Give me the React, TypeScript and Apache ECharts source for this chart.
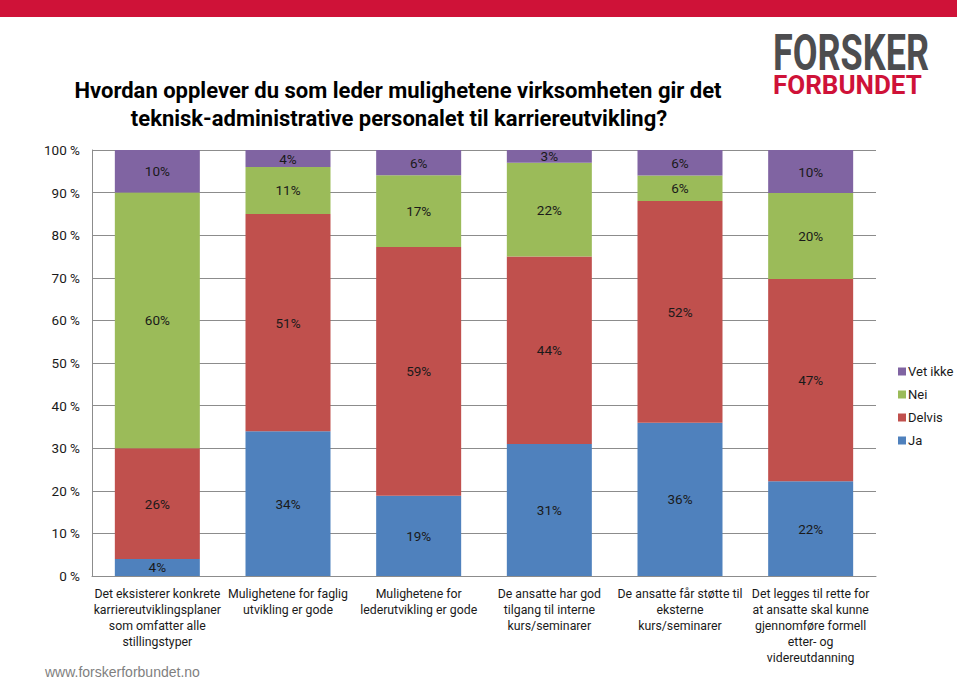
import React, { useEffect, useRef } from "react";
import * as echarts from "echarts";

const categories = [
  "Det eksisterer konkrete\nkarriereutviklingsplaner\nsom omfatter alle\nstillingstyper",
  "Mulighetene for faglig\nutvikling er gode",
  "Mulighetene for\nlederutvikling er gode",
  "De ansatte har god\ntilgang til interne\nkurs/seminarer",
  "De ansatte får støtte til\neksterne\nkurs/seminarer",
  "Det legges til rette for\nat ansatte skal kunne\ngjennomføre formell\netter- og\nvidereutdanning",
];

const ja = [4, 34, 19, 31, 36, 22];
const delvis = [26, 51, 59, 44, 52, 47];
const nei = [60, 11, 17, 22, 6, 20];
const vetIkke = [10, 4, 6, 3, 6, 10];

const seriesNames = ["Ja", "Delvis", "Nei", "Vet ikke"];
const seriesColors = ["#4F81BD", "#C0504D", "#9BBB59", "#8064A2"];
const legendOrder = ["Vet ikke", "Nei", "Delvis", "Ja"];

const titleLines = [
  "Hvordan opplever du som leder mulighetene virksomheten gir det",
  "teknisk-administrative personalet til karriereutvikling?",
];

const FONT = "Roboto, 'Liberation Sans', sans-serif";

export default function App() {
  const ref = useRef<HTMLDivElement>(null);
  useEffect(() => {
    if (!ref.current) return;
    const chart = echarts.init(ref.current, undefined, { renderer: "svg" });
    const raw = [ja, delvis, nei, vetIkke];
    const totals = categories.map((_, i) => raw.reduce((s, a) => s + a[i], 0));
    const series = raw.map((arr, si) => ({
      name: seriesNames[si],
      type: "bar",
      stack: "total",
      barWidth: 85,
      itemStyle: { color: seriesColors[si] },
      label: {
        show: true,
        position: "inside",
        color: "#1a1a1a",
        fontFamily: FONT,
        fontSize: 13.5,
        formatter: (p: any) => arr[p.dataIndex] + "%",
      },
      data: arr.map((v, i) => (v / totals[i]) * 100),
    }));
    chart.setOption({
      animation: false,
      textStyle: { fontFamily: FONT },
      grid: { left: 92, right: 84, top: 150, bottom: 105, containLabel: false },
      legend: {
        data: legendOrder,
        orient: "vertical",
        left: 893,
        top: 360,
        itemWidth: 8,
        itemHeight: 8,
        itemGap: 10,
        icon: "rect",
        textStyle: { fontFamily: FONT, fontSize: 13, color: "#1a1a1a", padding: [0, 0, 0, -3] },
      },
      xAxis: {
        type: "category",
        data: categories,
        axisLine: { show: true, lineStyle: { color: "#8c8c8c", width: 1 } },
        axisTick: { show: false },
        axisLabel: {
          interval: 0,
          color: "#1a1a1a",
          fontFamily: FONT,
          fontSize: 12.3,
          lineHeight: 16,
          margin: 10,
        },
      },
      yAxis: {
        type: "value",
        min: 0,
        max: 100,
        interval: 10,
        axisLine: { show: true, lineStyle: { color: "#8c8c8c", width: 1 } },
        axisTick: { show: false },
        splitLine: { show: true, lineStyle: { color: "#8c8c8c", width: 1 } },
        axisLabel: {
          formatter: "{value} %",
          color: "#1a1a1a",
          fontFamily: FONT,
          fontSize: 13.5,
          margin: 12,
        },
      },
      graphic: [
        { type: "rect", left: 0, top: 0, shape: { width: 957, height: 17 }, style: { fill: "#cf1238" } },
        {
          type: "text",
          x: 398,
          y: 90,
          style: {
            text: titleLines[0],
            fontFamily: FONT,
            fontWeight: "bold",
            fontSize: 22,
            fill: "#000",
            align: "center",
            verticalAlign: "middle",
          },
        },
        {
          type: "text",
          x: 399,
          y: 118,
          style: {
            text: titleLines[1],
            fontFamily: FONT,
            fontWeight: "bold",
            fontSize: 22,
            fill: "#000",
            align: "center",
            verticalAlign: "middle",
          },
        },
        {
          type: "text",
          x: 773,
          y: 53,
          scaleX: 0.72,
          style: {
            text: "FORSKER",
            fontFamily: FONT,
            fontWeight: "bold",
            fontSize: 50,
            fill: "#4d4d4f",
            align: "left",
            verticalAlign: "middle",
          },
        },
        {
          type: "text",
          x: 773,
          y: 85,
          style: {
            text: "FORBUNDET",
            fontFamily: FONT,
            fontWeight: "bold",
            fontSize: 26,
            fill: "#cf1238",
            align: "left",
            verticalAlign: "middle",
          },
        },
        {
          type: "text",
          x: 45,
          y: 672,
          style: {
            text: "www.forskerforbundet.no",
            fontFamily: "'Liberation Sans', Arial, sans-serif",
            fontSize: 14,
            fill: "#7f7f7f",
            align: "left",
            verticalAlign: "middle",
          },
        },
      ],
      series,
    });
    return () => chart.dispose();
  }, []);
  return <div ref={ref} style={{ width: 960, height: 681, position: "absolute", left: 0, top: 0 }} />;
}
